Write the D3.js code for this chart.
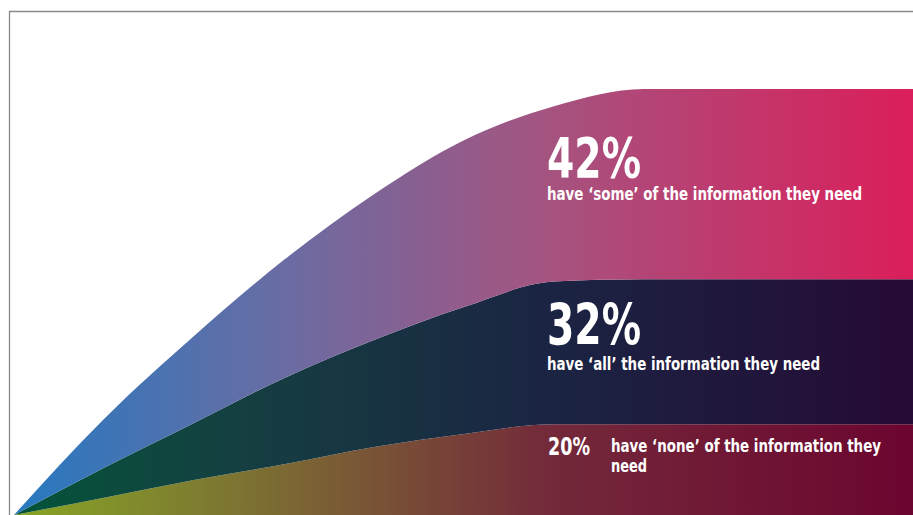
<!DOCTYPE html>
<meta charset="utf-8">
<style>
  body { margin: 0; background: #fff; }
  text { font-family: "DejaVu Sans", sans-serif; font-stretch: condensed; font-weight: bold; fill: #fff; }
</style>

<!-- Load d3.js -->
<script src="https://d3js.org/d3.v7.min.js"></script>

<div id="my_dataviz"></div>

<script>
// stages along the curve (left apex -> right edge)
var stages = [0, 1, 2, 3, 4, 5, 6, 7, 8, 9, 10];

// band thickness (in %) at each stage
var none = [0, 3.8, 7.7, 11.2, 15.0, 17.9, 20, 20, 20, 20, 20];
var all  = [0, 6.6, 12.6, 19.0, 23.6, 28.0, 31.5, 32, 32, 32, 32];
var some = [0, 10.8, 19.2, 26.1, 32.2, 36.8, 38.7, 42, 42, 42, 42];

var keys = ["none", "all", "some"];
var pctLabels = ["20%", "32%", "42%"];
var descriptions = [
  "have \u2018none\u2019 of the information they need",
  "have \u2018all\u2019 the information they need",
  "have \u2018some\u2019 of the information they need"
];

var width = 913, height = 515;

var svg = d3.select("#my_dataviz")
  .append("svg")
    .attr("width", width)
    .attr("height", height);

// table for d3.stack
var table = stages.map(function(s, i) {
  return { stage: s, none: none[i], all: all[i], some: some[i] };
});

var stacked = d3.stack().keys(keys)(table);

var total = none[none.length - 1] + all[all.length - 1] + some[some.length - 1];

var x = d3.scaleLinear()
  .domain([0, 10])
  .range([14, 914]);

var y = d3.scaleLinear()
  .domain([0, total])
  .range([515, 89]);

// gradients, one per band
var gradients = {
  none: [["0%", "#88a524"], ["20%", "#7e7e30"], ["40%", "#795336"], ["60%", "#73293a"], ["100%", "#6c0530"]],
  all:  [["0%", "#04543a"], ["25%", "#153f41"], ["60%", "#1b2443"], ["100%", "#250a34"]],
  some: [["0%", "#2679c0"], ["30%", "#6a6ca3"], ["58%", "#a35581"], ["100%", "#db1e5a"]]
};

var defs = svg.append("defs");
keys.forEach(function(k) {
  var g = defs.append("linearGradient")
    .attr("id", "grad-" + k)
    .attr("gradientUnits", "userSpaceOnUse")
    .attr("x1", x(0)).attr("x2", width)
    .attr("y1", 0).attr("y2", 0);
  gradients[k].forEach(function(s) {
    g.append("stop").attr("offset", s[0]).attr("stop-color", s[1]);
  });
});

var area = d3.area()
  .curve(d3.curveMonotoneX)
  .x(function(d) { return x(d.data.stage); })
  .y0(function(d) { return y(d[0]); })
  .y1(function(d) { return y(d[1]); });

svg.selectAll("path.band")
  .data(stacked)
  .enter()
  .append("path")
    .attr("class", "band")
    .attr("d", area)
    .attr("fill", function(d) { return "url(#grad-" + d.key + ")"; });

// frame lines top and left
svg.append("line")
  .attr("x1", 9).attr("x2", width).attr("y1", 11.5).attr("y2", 11.5)
  .attr("stroke", "#8a8a8a").attr("stroke-width", 1.3);
svg.append("line")
  .attr("x1", 9.5).attr("x2", 9.5).attr("y1", 11).attr("y2", height)
  .attr("stroke", "#8a8a8a").attr("stroke-width", 1.3);

// labels, squeezed to the widths of the original condensed face
function label(str, px, py, size, len) {
  return svg.append("text")
    .attr("x", px).attr("y", py)
    .attr("textLength", len)
    .attr("lengthAdjust", "spacingAndGlyphs")
    .style("font-size", size + "px")
    .text(str);
}

// 42% some
label(pctLabels[2], 547, 177, 55, 94);
label(descriptions[2], 547, 200, 18, 315);

// 32% all
label(pctLabels[1], 547, 345, 57, 94);
label(descriptions[1], 547, 370, 18, 273);

// 20% none (wrapped)
label(pctLabels[0], 548, 455, 24, 42);
label("have \u2018none\u2019 of the information they", 611, 452, 18, 270);
label("need", 611, 472, 18, 36);
</script>
